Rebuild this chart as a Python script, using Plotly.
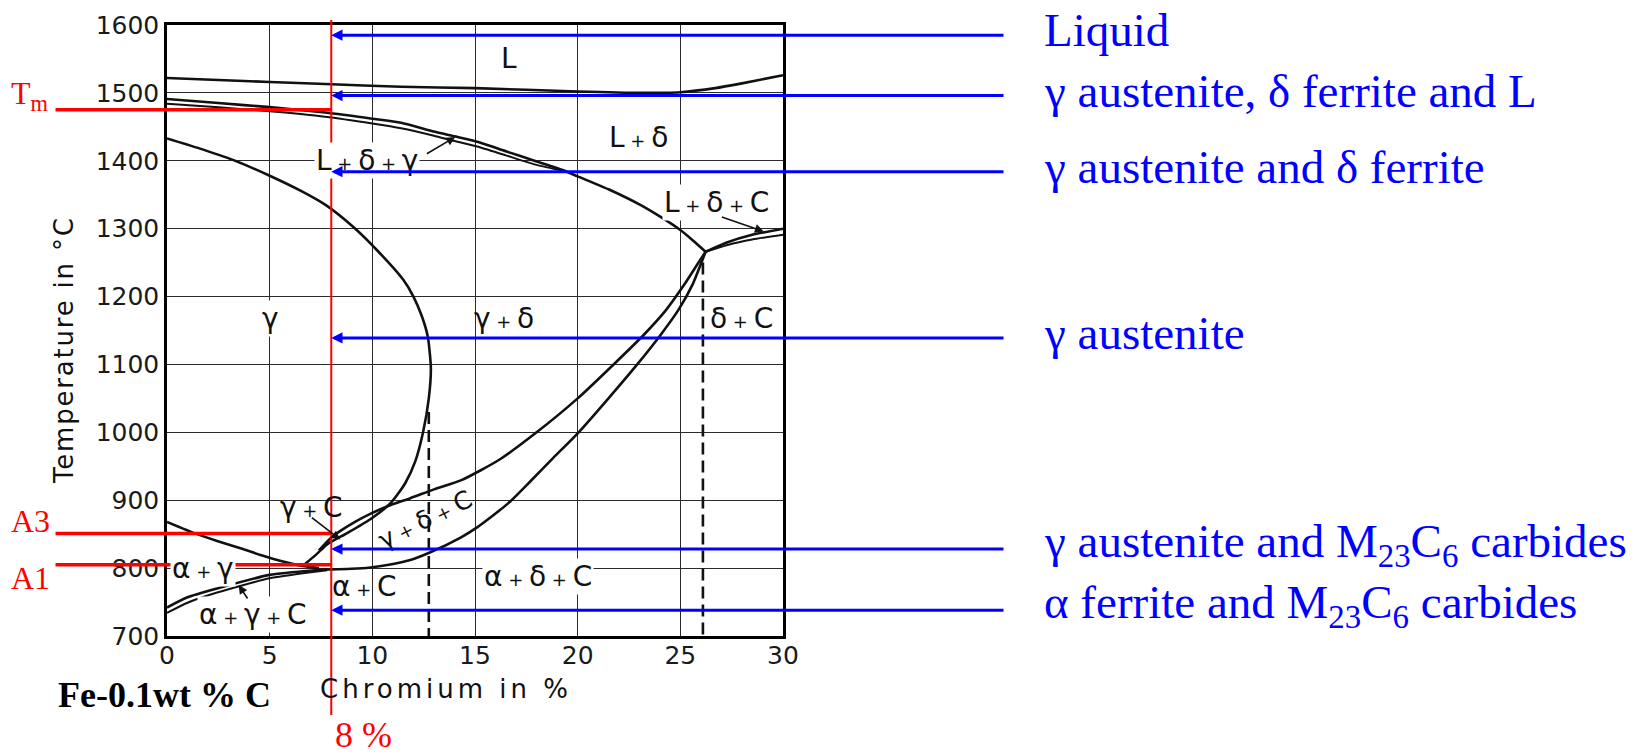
import plotly.graph_objects as go

# ---------------------------------------------------------------- frame
FIG_W, FIG_H = 1651, 754
PLOT_L, PLOT_T, PLOT_W, PLOT_H = 167, 25, 616, 611

CR_RANGE = [0, 30]
T_RANGE = [700, 1600]
CR_TICKS = [0, 5, 10, 15, 20, 25, 30]
CR_TICKTEXT = ["0", "5", "10", "15", "20", "25", "30"]
T_TICKS = [700, 800, 900, 1000, 1100, 1200, 1300, 1400, 1500, 1600]
T_TICKTEXT = ["700", "800", "900", "1000", "1100", "1200", "1300", "1400", "1500", "1600"]

# ---------------------------------------------------------------- phase boundaries (Cr %, T °C)
liquidus_cr = [0, 2.5, 5, 7.7, 11.4, 15, 20, 23, 25, 26.7, 28, 30]
liquidus_t = [1522, 1519, 1516, 1513, 1509, 1507, 1502, 1500, 1501, 1507, 1514, 1526]

# upper edge of the narrow L+δ+γ band, continuing as the L / L+δ boundary
ld_upper_cr = [0, 2.5, 5, 7.7, 10, 11.4, 13, 14, 15.1, 16.5, 18, 19.3, 20, 21.5, 23.05, 24, 25, 25.6, 26.23]
ld_upper_t = [1491, 1485, 1479, 1471, 1462, 1456, 1443, 1436, 1428, 1414, 1399, 1386, 1377, 1358, 1335, 1318, 1298, 1283, 1266]
# lower edge of the L+δ+γ band
ld_lower_cr = [0, 2.5, 5, 7.7, 10, 11.4, 13, 14, 15.1, 16.5, 18, 19.3]
ld_lower_t = [1484, 1479, 1473, 1465, 1455, 1448, 1437, 1429, 1421, 1408, 1394, 1385]

# γ / γ+δ boundary (the "nose")
nose_cr = [6.6, 7.3, 7.8, 8.8, 9.9, 10.9, 11.6, 12.1, 12.47, 12.75, 12.85, 12.7, 12.4, 12.0,
           11.5, 10.3, 9.09, 7.72, 6.5, 5, 3.24, 1.5, 0]
nose_t = [803, 821, 835, 852, 872, 896, 925, 958, 1000, 1050, 1095, 1141, 1172, 1200,
          1225, 1266, 1302, 1335, 1356, 1378, 1401, 1419, 1433]

# upper limit of γ+δ+C (and top of the small γ+C field)
gdc_upper_cr = [7.4, 8.0, 8.5, 9.2, 9.9, 10.9, 11.85, 13.0, 14.37, 16.2, 18.0, 20.0, 21.75, 23.2, 24.3, 25.2, 25.8, 26.23]
gdc_upper_t = [826, 845, 856, 869, 880, 893, 903, 916, 930, 960, 1000, 1050, 1100, 1143, 1180, 1218, 1246, 1266]

# α+γ+C band, continuing as the lower limit of γ+δ+C
gdc_lower_cr = [0, 1, 2.44, 5, 7.3, 7.8, 9.0, 9.9, 10.8, 11.85, 12.8, 14.3, 15.1, 16.6, 17.7, 18.8,
                20.05, 21.5, 22.9, 24.0, 24.9, 25.6, 26.0, 26.23]
gdc_lower_t = [742, 757, 770, 790, 797, 798, 799, 801, 805, 812, 823, 845, 860, 895, 928, 962,
               1000, 1050, 1100, 1142, 1180, 1218, 1248, 1266]
agc_lower_cr = [0, 1, 2.44, 5, 7.3, 7.8]
agc_lower_t = [734, 749, 764, 785, 795, 797]

# α+γ / γ boundary
a3_cr = [0, 1.2, 2.44, 3.7, 4.6, 5.6, 6.6, 7.4]
a3_t = [868, 853, 840, 828, 819, 810, 803, 800]

# L+δ+C band at high Cr
ldc_upper_cr = [26.23, 27.3, 28.5, 30]
ldc_upper_t = [1266, 1280, 1291, 1300]
ldc_lower_cr = [26.23, 27.3, 28.5, 30]
ldc_lower_t = [1266, 1276, 1284, 1291]

# dashed verticals
dash1_cr = [12.75, 12.75]
dash1_t = [1030, 700]
dash2_cr = [26.1, 26.1]
dash2_t = [1250, 700]

# ---------------------------------------------------------------- field labels
PLUS = "<span style='font-size:18px'> + </span>"
label_text = ["L", "L" + PLUS + "δ", "L" + PLUS + "δ" + PLUS + "γ", "L" + PLUS + "δ" + PLUS + "C",
              "γ", "γ" + PLUS + "δ", "δ" + PLUS + "C", "γ" + PLUS + "C",
              "α" + PLUS + "γ", "α" + PLUS + "γ" + PLUS + "C", "α" + PLUS + "C",
              "α" + PLUS + "δ" + PLUS + "C"]
label_cr = [16.67, 22.97, 9.75, 26.75, 5.04, 16.4, 28.0, 7.02, 1.75, 4.18, 9.6, 18.06]
label_t = [1550, 1434, 1400, 1338, 1167, 1167, 1168, 890, 800, 732, 773, 787]
label_bg = [False, False, True, True, True, False, False, False, True, True, False, True]

rot_label_text = "γ" + PLUS + "δ" + PLUS + "C"
rot_label_cr, rot_label_t = 12.58, 871

# pointer arrows from labels: (tail Cr, tail T, head Cr, head T)
pointer_tail_cr = [12.58, 26.95, 6.98, 3.97]
pointer_tail_t = [1409, 1318, 876, 753]
pointer_head_cr = [14.04, 29.06, 8.44, 3.49]
pointer_head_t = [1435, 1296, 842, 775]

# ---------------------------------------------------------------- overlay: 8 % Cr steel
ALLOY_CR = 8
marker_names = ["T<sub>m</sub>", "A3", "A1"]
marker_t = [1475, 851, 805]

phase_names = ["Liquid", "γ austenite, δ ferrite and L", "γ austenite and δ ferrite",
               "γ austenite", "γ austenite and M<sub>23</sub>C<sub>6</sub> carbides",
               "α ferrite and M<sub>23</sub>C<sub>6</sub> carbides"]
phase_t = [1585, 1496, 1384, 1139, 828, 738]


def px_x(px):
    return (px - PLOT_L) / PLOT_W


def px_y(py):
    return 1 - (py - PLOT_T) / PLOT_H


def px_to_cr(px):
    return CR_RANGE[0] + (px - PLOT_L) / PLOT_W * (CR_RANGE[1] - CR_RANGE[0])


fig = go.Figure()


def boundary(cr, t, width=2.6, dash="solid", shape="spline"):
    fig.add_trace(go.Scatter(
        x=cr, y=t, mode="lines",
        line=dict(color="#111111", width=width, dash=dash, shape=shape, smoothing=0.6),
        hoverinfo="skip", showlegend=False))


boundary(liquidus_cr, liquidus_t)
boundary(ld_upper_cr, ld_upper_t)
boundary(ld_lower_cr, ld_lower_t, width=2)
boundary(nose_cr, nose_t)
boundary(gdc_upper_cr, gdc_upper_t)
boundary(gdc_lower_cr, gdc_lower_t)
boundary(agc_lower_cr, agc_lower_t, width=2)
boundary(a3_cr, a3_t)
boundary(ldc_upper_cr, ldc_upper_t)
boundary(ldc_lower_cr, ldc_lower_t, width=2)
boundary(dash1_cr, dash1_t, width=2.6, dash="12px,6px", shape="linear")
boundary(dash2_cr, dash2_t, width=2.6, dash="12px,6px", shape="linear")

annotations = []

# red horizontals for Tm, A3, A1
for t in marker_t:
    annotations.append(dict(
        x=ALLOY_CR, y=t, xref="x", yref="y", ax=px_to_cr(54), ay=t, axref="x", ayref="y",
        text="", showarrow=True, arrowhead=0, arrowwidth=3.5, arrowcolor="#ff0000", standoff=0))

# field labels
for txt, cr, t, bg in zip(label_text, label_cr, label_t, label_bg):
    annotations.append(dict(
        x=cr, y=t, xref="x", yref="y", text=txt, showarrow=False,
        font=dict(family="DejaVu Sans", size=28, color="#111111"),
        bgcolor="#ffffff" if bg else "rgba(0,0,0,0)", borderpad=1))
annotations.append(dict(
    x=rot_label_cr, y=rot_label_t, xref="x", yref="y", text=rot_label_text, showarrow=False,
    textangle=-26, font=dict(family="DejaVu Sans", size=25, color="#111111")))

# pointer arrows
for tx, ty, hx, hy in zip(pointer_tail_cr, pointer_tail_t, pointer_head_cr, pointer_head_t):
    annotations.append(dict(
        x=hx, y=hy, xref="x", yref="y", ax=tx, ay=ty, axref="x", ayref="y",
        text="", showarrow=True, arrowhead=2, arrowsize=1.1, arrowwidth=1.6,
        arrowcolor="#111111", standoff=0))

# blue arrows and phase descriptions
for name, t in zip(phase_names, phase_t):
    annotations.append(dict(
        x=ALLOY_CR, y=t, xref="x", yref="y", ax=px_to_cr(1005), ay=t, axref="x", ayref="y",
        text="", showarrow=True, arrowhead=2, arrowsize=0.75, arrowwidth=3,
        arrowcolor="#0000ff", standoff=0))
    annotations.append(dict(
        x=px_x(1042), y=t, xref="paper", yref="y", text=name, showarrow=False,
        xanchor="left", yanchor="middle", yshift=5,
        font=dict(family="Liberation Serif", size=47, color="#0000ff")))

# red marker names
for name, py in zip(marker_names, [96, 521, 578]):
    annotations.append(dict(
        x=px_x(9), y=px_y(py), xref="paper", yref="paper", text=name, showarrow=False,
        xanchor="left", yanchor="middle",
        font=dict(family="Liberation Serif", size=32, color="#ff0000")))

annotations.append(dict(
    x=ALLOY_CR, y=px_y(735), xref="x", yref="paper", text=f"{ALLOY_CR} %", showarrow=False,
    xanchor="left", yanchor="middle", xshift=2,
    font=dict(family="Liberation Serif", size=36, color="#ff0000")))

annotations.append(dict(
    x=px_x(56), y=px_y(695), xref="paper", yref="paper", text="<b>Fe-0.1wt % C</b>",
    showarrow=False, xanchor="left", yanchor="middle",
    font=dict(family="Liberation Serif", size=36, color="#000000")))

# axis titles
annotations.append(dict(
    x=px_x(64), y=px_y(350), xref="paper", yref="paper",
    text="<span style='letter-spacing:1.8px'>Temperature in °C</span>", showarrow=False,
    textangle=-90, xanchor="center", yanchor="middle",
    font=dict(family="DejaVu Sans", size=26, color="#111111")))
annotations.append(dict(
    x=px_x(446), y=px_y(689), xref="paper", yref="paper",
    text="<span style='letter-spacing:4px'>Chromium in %</span>", showarrow=False,
    xanchor="center", yanchor="middle",
    font=dict(family="DejaVu Sans", size=26, color="#111111")))

# red 8 % line
shapes = [dict(type="line", xref="x", yref="paper", x0=ALLOY_CR, x1=ALLOY_CR,
               y0=px_y(715), y1=px_y(20), line=dict(color="#ff0000", width=2), layer="above")]

axis_common = dict(
    showgrid=True, gridcolor="#2b2b2b", gridwidth=1.2,
    showline=True, linecolor="#000000", linewidth=2.5, mirror=True,
    zeroline=False, ticks="",
    tickfont=dict(family="DejaVu Sans", size=25, color="#1a1a1a"), fixedrange=True)

fig.update_layout(
    width=FIG_W, height=FIG_H,
    margin=dict(l=PLOT_L, r=FIG_W - PLOT_L - PLOT_W, t=PLOT_T, b=FIG_H - PLOT_T - PLOT_H),
    paper_bgcolor="#ffffff", plot_bgcolor="#ffffff",
    xaxis=dict(range=CR_RANGE, tickvals=CR_TICKS, ticktext=CR_TICKTEXT,
               ticklabelstandoff=-5, **axis_common),
    yaxis=dict(range=T_RANGE, tickvals=T_TICKS, ticktext=T_TICKTEXT, **axis_common),
    annotations=annotations, shapes=shapes, showlegend=False)

fig.write_html("out.html")
